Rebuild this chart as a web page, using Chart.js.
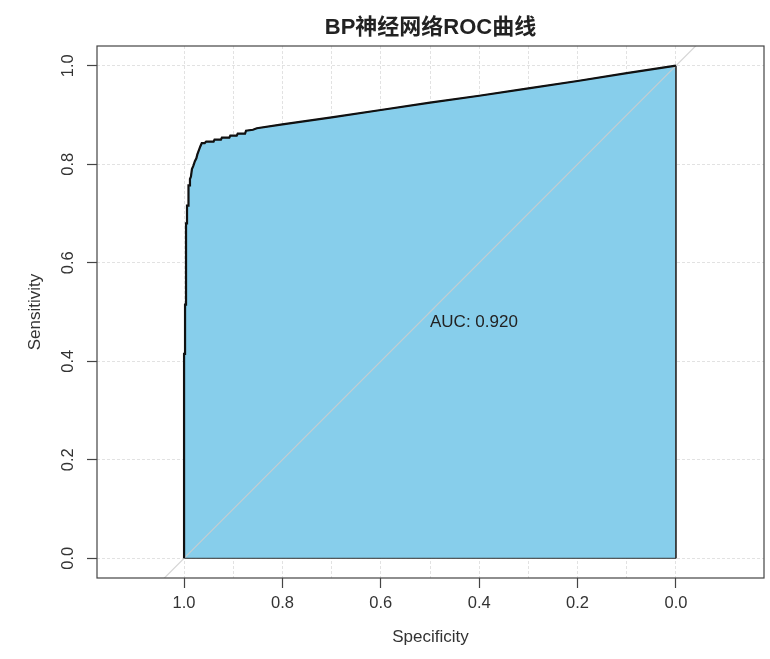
<!DOCTYPE html>
<html>
<head>
<meta charset="utf-8">
<script src="https://cdn.jsdelivr.net/npm/chart.js@4"></script>
<style>
  html, body { margin: 0; padding: 0; background: #fff; }
  #wrap { width: 770px; height: 659px; }
</style>
</head>
<body>
<div id="wrap"><canvas id="roc" width="770" height="659"></canvas></div>
<script>
// ===== ROC curve data =====
const chartTitle = 'BP神经网络ROC曲线';
const aucLabel = 'AUC: 0.920';

// curve points, from specificity 1 / sensitivity 0 up to specificity 0 / sensitivity 1
const specificities = [1.000, 1.000, 0.998, 0.998, 0.996, 0.996, 0.994, 0.994, 0.991, 0.991,
    0.988, 0.988, 0.986, 0.984, 0.981, 0.978, 0.975, 0.973, 0.970, 0.967, 0.964, 0.958,
    0.955, 0.940, 0.938, 0.925, 0.923, 0.908, 0.906, 0.893, 0.891, 0.876, 0.874, 0.860,
    0.852, 0.800, 0.700, 0.600, 0.500, 0.400, 0.300, 0.200, 0.100, 0.000];
const sensitivities = [0.000, 0.415, 0.415, 0.515, 0.515, 0.680, 0.680, 0.716, 0.716, 0.757,
    0.757, 0.770, 0.775, 0.790, 0.797, 0.806, 0.812, 0.820, 0.828, 0.836, 0.843, 0.843,
    0.846, 0.846, 0.850, 0.850, 0.854, 0.854, 0.858, 0.858, 0.862, 0.862, 0.868, 0.870,
    0.873, 0.881, 0.895, 0.910, 0.925, 0.939, 0.954, 0.969, 0.985, 1.000];

// tick values
const specTicks = [0, 0.1, 0.2, 0.3, 0.4, 0.5, 0.6, 0.7, 0.8, 0.9, 1.0];
const sensTicks = [0, 0.2, 0.4, 0.6, 0.8, 1.0];

// axis ranges
const specRange = [-0.179, 1.177];
const sensRange = [-0.04, 1.04];

// identity (chance) line end points
const chanceSpec = [1.2, -0.2];
const chanceSens = [-0.2, 1.2];

const curve = specificities.map((s, i) => ({ x: s, y: sensitivities[i] }));
// polygon under the curve, closed along sensitivity 0
const aucPolygon = curve.concat([{ x: 0, y: 0 }, { x: 1, y: 0 }]);
const chance = chanceSpec.map((s, i) => ({ x: s, y: chanceSens[i] }));

const tickFont = { family: '"Liberation Sans", Arial, sans-serif', size: 16.5 };
const labelFont = { family: '"Liberation Sans", Arial, sans-serif', size: 17 };

// frame around the plot + title above it + AUC text
const rocDecor = {
    id: 'rocDecor',
    afterDraw(chart) {
        const { ctx, chartArea } = chart;
        ctx.save();
        ctx.strokeStyle = '#444';
        ctx.lineWidth = 1.2;
        ctx.strokeRect(chartArea.left, chartArea.top,
            chartArea.right - chartArea.left, chartArea.bottom - chartArea.top);

        ctx.fillStyle = '#222';
        ctx.font = 'bold 22px "Liberation Sans", "Noto Sans CJK SC", sans-serif';
        ctx.textAlign = 'center';
        ctx.textBaseline = 'middle';
        ctx.fillText(chartTitle, (chartArea.left + chartArea.right) / 2, 28);
        ctx.restore();
    },
    afterDatasetsDraw(chart) {
        const { ctx, scales } = chart;
        ctx.save();
        ctx.fillStyle = '#222';
        ctx.font = '17px "Liberation Sans", Arial, sans-serif';
        ctx.textAlign = 'left';
        ctx.textBaseline = 'top';
        ctx.fillText(aucLabel, scales.x.getPixelForValue(0.5), scales.y.getPixelForValue(0.5) + 2);
        ctx.restore();
    }
};

new Chart(document.getElementById('roc').getContext('2d'), {
    type: 'scatter',
    data: {
        datasets: [
            {
                label: 'ROC',
                data: curve,
                showLine: true,
                borderColor: '#111',
                borderWidth: 2.2,
                pointRadius: 0,
                fill: false,
                order: 1
            },
            {
                label: 'chance',
                data: chance,
                showLine: true,
                borderColor: 'rgba(205,205,205,0.85)',
                borderWidth: 1.2,
                pointRadius: 0,
                fill: false,
                order: 2
            },
            {
                label: 'AUC',
                data: aucPolygon,
                showLine: true,
                borderColor: '#333',
                borderWidth: 1,
                backgroundColor: '#87CEEB',
                pointRadius: 0,
                fill: 'shape',
                order: 3
            }
        ]
    },
    options: {
        responsive: false,
        animation: false,
        devicePixelRatio: 1,
        layout: { padding: { top: 46, right: 6, bottom: 0, left: 0 } },
        plugins: {
            legend: { display: false },
            tooltip: { enabled: false },
            title: { display: false }
        },
        scales: {
            x: {
                type: 'linear',
                reverse: true,
                min: specRange[0],
                max: specRange[1],
                afterBuildTicks: s => { s.ticks = specTicks.map(v => ({ value: v })); },
                afterFit: s => { s.height = 81; },
                border: { display: false, dash: [3, 2] },
                grid: {
                    color: '#e2e2e2',
                    lineWidth: 1,
                    tickLength: 10,
                    tickColor: ctx => (Math.round(ctx.tick.value * 10) % 2 === 0 ? '#444' : 'rgba(0,0,0,0)'),
                    tickWidth: 1.2
                },
                ticks: {
                    color: '#333',
                    font: tickFont,
                    padding: 6,
                    maxRotation: 0,
                    autoSkip: false,
                    callback: v => (Math.round(v * 10) % 2 === 0 ? v.toFixed(1) : '')
                },
                title: {
                    display: true,
                    text: 'Specificity',
                    color: '#333',
                    font: labelFont,
                    padding: { top: 0, bottom: 11 }
                }
            },
            y: {
                type: 'linear',
                min: sensRange[0],
                max: sensRange[1],
                afterBuildTicks: s => { s.ticks = sensTicks.map(v => ({ value: v })); },
                afterFit: s => { s.width = 97; },
                border: { display: false, dash: [3, 2] },
                grid: {
                    color: '#e2e2e2',
                    lineWidth: 1,
                    tickLength: 10,
                    tickColor: '#444',
                    tickWidth: 1.2
                },
                ticks: {
                    color: '#333',
                    font: tickFont,
                    padding: 7,
                    minRotation: 90,
                    maxRotation: 90,
                    crossAlign: 'center',
                    autoSkip: false,
                    callback: v => v.toFixed(1)
                },
                title: {
                    display: true,
                    text: 'Sensitivity',
                    color: '#333',
                    font: labelFont,
                    padding: { top: 25, bottom: 0 }
                }
            }
        }
    },
    plugins: [rocDecor]
});
</script>
</body>
</html>
